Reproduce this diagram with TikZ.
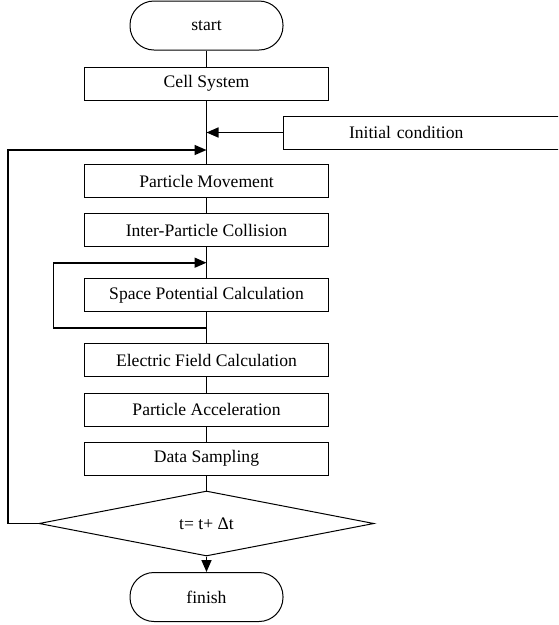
\documentclass[tikz,border=0pt]{standalone}
\usepackage{fontspec}
\setmainfont{Liberation Serif}
\usetikzlibrary{arrows.meta,shapes.geometric}
\tikzset{
  every node/.style={font=\fontsize{17.6}{20}\selectfont},
  procbox/.style={draw, line width=1pt, rectangle, minimum width=244pt, minimum height=33pt, inner sep=0pt},
  termbox/.style={draw, line width=1pt, rectangle, rounded corners=24pt, minimum width=153pt, minimum height=49pt, inner sep=0pt},
  decbox/.style={draw, line width=1pt, diamond, shape aspect=5.15, minimum width=335pt, minimum height=65pt, inner sep=0pt},
  conn/.style={line width=1.6pt},
  arr/.style={line width=1.6pt, -{Triangle[length=12pt,width=10pt]}}
}
\begin{document}
\begin{tikzpicture}[x=1pt,y=-1pt]
\useasboundingbox (0,0) rectangle (558,625);
\clip (0,0) rectangle (558,625);
\node[termbox] (start) at (206.5,25.5) {start};
\node[procbox] (cell) at (206.5,83.5) {Cell System};
\node[draw, line width=1pt, rectangle, anchor=west, minimum height=33pt, inner ysep=0pt, inner xsep=65.5pt, text width=200pt, align=left] (ic) at (283,132.5) {Initial condition};
\node[procbox] (pm) at (206.5,181.3) {Particle Movement};
\node[procbox] (ipc) at (206.5,230.3) {Inter-Particle Collision};
\node[procbox] (spc) at (206.5,295.3) {Space Potential Calculation};
\node[procbox] (efc) at (206.5,360.3) {Electric Field Calculation};
\node[procbox] (pa) at (206.5,409.7) {Particle Acceleration};
\node[procbox] (ds) at (206.5,458.7) {Data Sampling};
\node[decbox] (dec) at (206.5,523.5) {t= t+ Δt};
\node[termbox] (fin) at (206.5,597) {finish};

\coordinate (j1) at (206.5,132.5);
\coordinate (j2) at (206.5,150);
\coordinate (j3) at (206.5,262.7);
\coordinate (j4) at (206.5,327.7);
\coordinate (outer) at (8,150);
\coordinate (innerL) at (53.3,262.7);

\draw[conn] (start) -- (cell);
\draw[conn] (cell) -- (pm);
\draw[conn] (pm) -- (ipc);
\draw[conn] (ipc) -- (spc);
\draw[conn] (spc) -- (efc);
\draw[conn] (efc) -- (pa);
\draw[conn] (pa) -- (ds);
\draw[conn] (ds) -- (dec);
\draw[arr] (dec) -- (fin);
\draw[arr] (ic.west) -- (j1);
\draw[arr] (dec.west) -| (outer) -- (j2);
\draw[arr] (j4) -| (innerL) -- (j3);
\end{tikzpicture}
\end{document}
